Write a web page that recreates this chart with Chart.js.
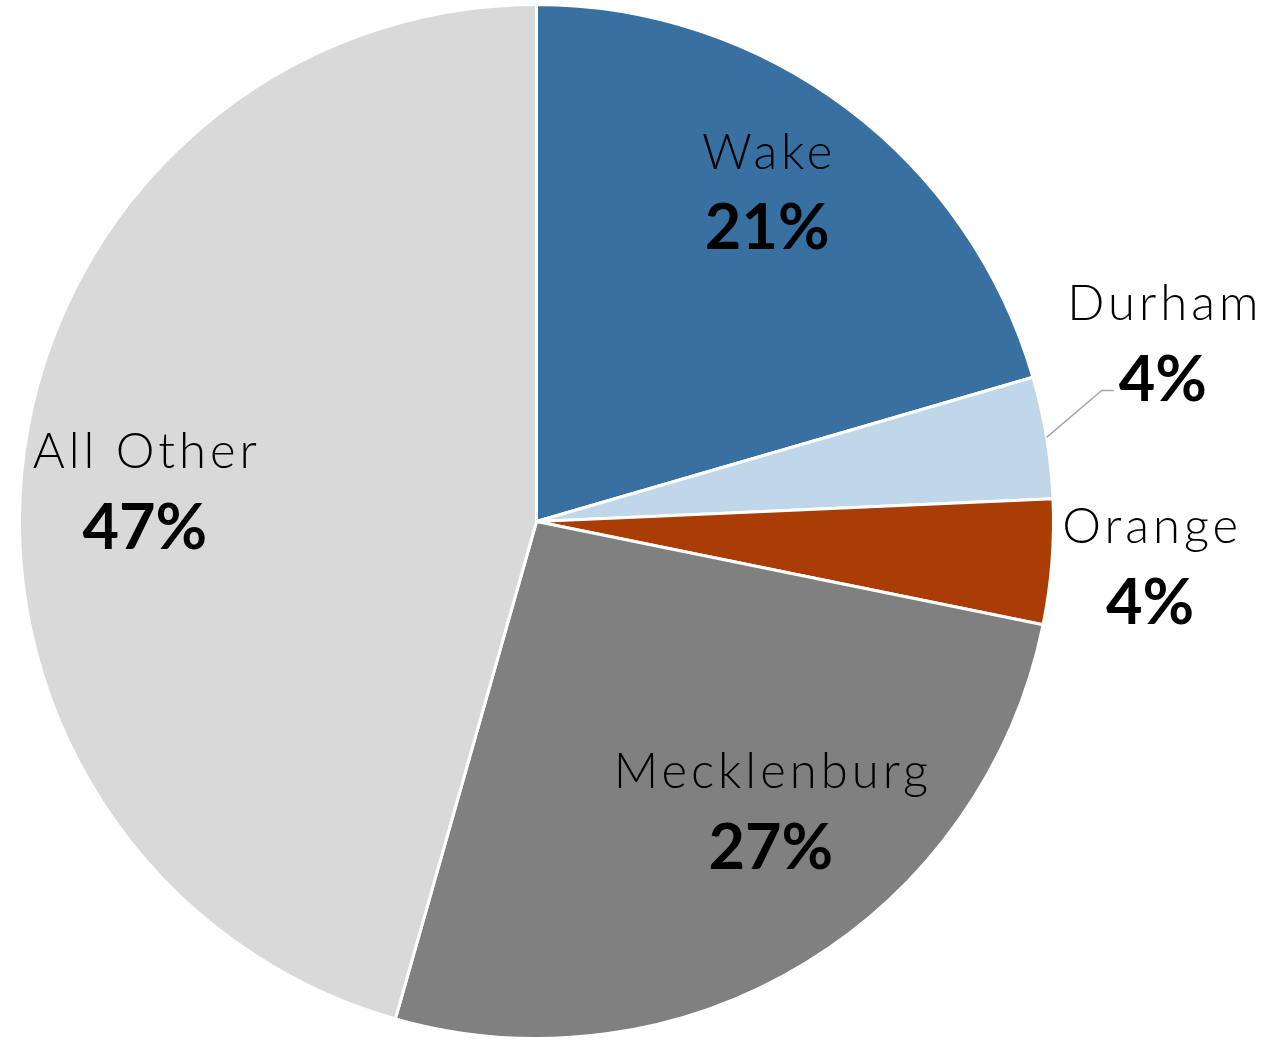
<!DOCTYPE html>
<html>
<head>
<meta charset="utf-8">
<script src="https://cdn.jsdelivr.net/npm/chart.js@4"></script>
<style>
html,body{margin:0;padding:0;background:#fff;}
#wrap{width:1271px;height:1040px;}
</style>
</head>
<body>
<div id="wrap"><canvas id="c" width="1271" height="1040"></canvas></div>
<script>
const categories = ["Wake", "Durham", "Orange", "Mecklenburg", "All Other"];
const shares = [20.5, 3.8, 3.9, 26.2, 45.6];
const shareLabels = ["21%", "4%", "4%", "27%", "47%"];
const colors = ["#3770a1", "#c0d6e9", "#aa3c05", "#808080", "#d9d9d9"];

// label placement (style): radius factor, angle shift (deg), leader line flag
const placement = [
  {rf: 0.78, da: -2, leader: false},
  {rf: 1.26, da: -6.6, leader: true},
  {rf: 1.19, da: -0.4, leader: false},
  {rf: 0.72, da: -7.7, leader: false},
  {rf: 0.76, da: -3.4, leader: false}
];

const labelPlugin = {
  id: 'sliceLabels',
  afterDatasetsDraw(chart) {
    const ctx = chart.ctx;
    const meta = chart.getDatasetMeta(0);
    meta.data.forEach((arc, i) => {
      const p = arc.getProps(['x','y','startAngle','endAngle','outerRadius'], true);
      const mid = (p.startAngle + p.endAngle) / 2;
      const pl = placement[i];
      const a = mid + pl.da * Math.PI / 180;
      const cx = p.x + Math.cos(a) * p.outerRadius * pl.rf;
      const cy = p.y + Math.sin(a) * p.outerRadius * pl.rf;
      ctx.save();
      ctx.fillStyle = '#000';
      ctx.textAlign = 'center';
      ctx.textBaseline = 'middle';
      ctx.font = '300 49px Lato, "Open Sans", sans-serif';
      ctx.letterSpacing = '4px';
      ctx.fillText(categories[i], cx + 2, cy - 38);
      ctx.font = 'bold 63px Lato, "Open Sans", sans-serif';
      ctx.letterSpacing = '0px';
      ctx.fillText(shareLabels[i], cx, cy + 38);
      if (pl.leader) {
        const w = ctx.measureText(shareLabels[i]).width;
        const sx = p.x + Math.cos(mid) * p.outerRadius * 1.0;
        const sy = p.y + Math.sin(mid) * p.outerRadius * 1.0;
        const ex = cx - w / 2 - 5;
        const ey = cy + 48;
        ctx.strokeStyle = '#a6a6a6';
        ctx.lineWidth = 1.5;
        ctx.beginPath();
        ctx.moveTo(sx, sy);
        ctx.lineTo(ex - 12, ey);
        ctx.lineTo(ex, ey);
        ctx.stroke();
      }
      ctx.restore();
    });
  }
};

new Chart(document.getElementById('c'), {
  type: 'pie',
  data: {
    labels: categories,
    datasets: [{
      data: shares,
      backgroundColor: colors,
      borderColor: '#ffffff',
      borderWidth: 3,
      hoverOffset: 0,
      offset: 0
    }]
  },
  options: {
    responsive: false,
    animation: false,
    layout: {padding: {left: 18, right: 216, top: 3, bottom: 0}},
    plugins: {legend: {display: false}, tooltip: {enabled: false}}
  },
  plugins: [labelPlugin]
});
</script>
</body>
</html>
